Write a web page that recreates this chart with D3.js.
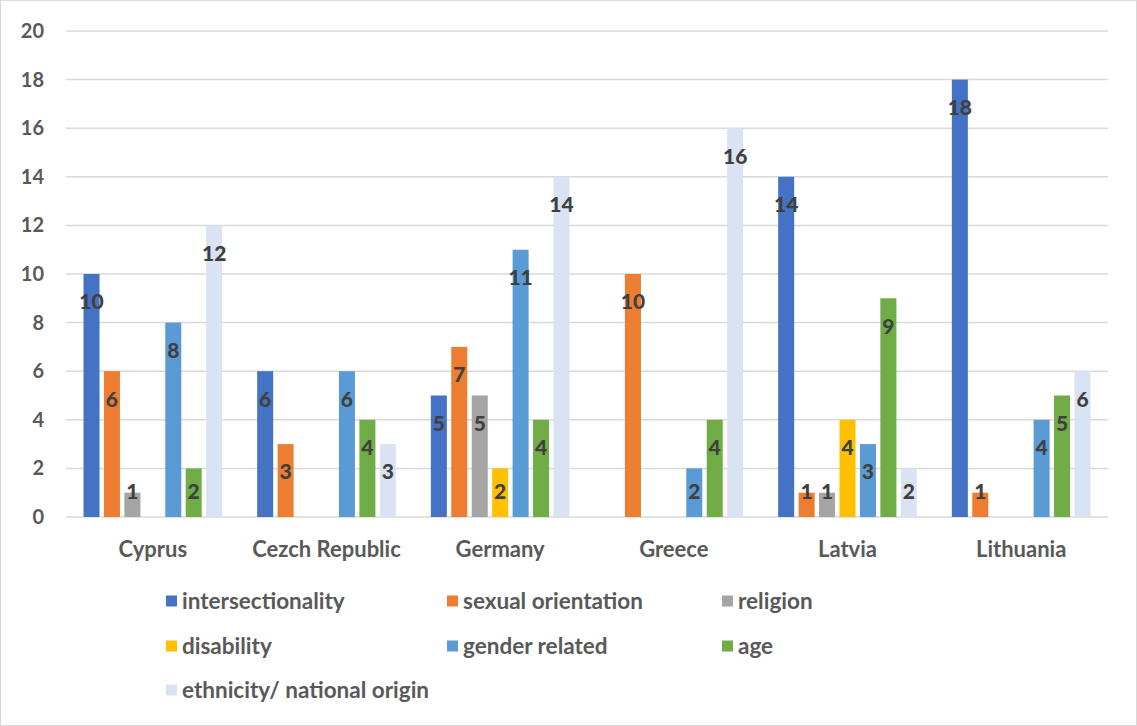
<!DOCTYPE html>
<html><head><meta charset="utf-8">
<script src="https://cdn.jsdelivr.net/npm/d3@7"></script>
<style>body{margin:0;background:#fff}svg{display:block}</style>
</head><body><svg id="c" width="1137" height="726"></svg>
<script>
const countries = ["Cyprus","Cezch Republic","Germany","Greece","Latvia","Lithuania"];
const seriesNames = ["intersectionality","sexual orientation","religion","disability","gender related","age","ethnicity/ national origin"];
const seriesColors = ["#4472C4","#ED7D31","#A5A5A5","#FFC000","#5B9BD5","#70AD47","#DAE3F3"];
const intersectionality = [10,6,5,0,14,18];
const sexualOrientation = [6,3,7,10,1,1];
const religion = [1,0,5,0,1,0];
const disability = [0,0,2,0,4,0];
const genderRelated = [8,6,11,2,3,4];
const age = [2,4,4,4,9,5];
const ethnicity = [12,3,14,16,2,6];
const yTicks = [0,2,4,6,8,10,12,14,16,18,20];
const seriesValues = [intersectionality,sexualOrientation,religion,disability,genderRelated,age,ethnicity];

(function(){
const svg = d3.select("#c");
const font = "Lato, 'Open Sans', sans-serif";
svg.append("rect").attr("x",0.5).attr("y",0.5).attr("width",1136).attr("height",725)
  .attr("fill","#fff").attr("stroke","#d9d9d9").attr("stroke-width",1);

const pLeft=66,pRight=1108,pTop=31,pBottom=517;
const x0 = d3.scaleBand().domain(countries).range([pLeft,pRight]).padding(0);
const x1 = d3.scaleBand().domain(seriesNames).range([17.5, x0.bandwidth()-17.5]).paddingInner(0.216);
const y = d3.scaleLinear().domain([0,20]).range([pBottom,pTop]);

svg.append("g").selectAll("line").data(yTicks).join("line")
  .attr("x1",pLeft).attr("x2",pRight).attr("y1",d=>y(d)).attr("y2",d=>y(d))
  .attr("stroke","#d9d9d9").attr("stroke-width",1.5);

const yAxis = d3.axisLeft(y).tickValues(yTicks).tickSize(0).tickPadding(0);
const ga = svg.append("g").attr("transform","translate(44,0)").call(yAxis);
ga.select(".domain").remove();
ga.selectAll("text").attr("font-family",font).attr("font-weight","bold").attr("font-size",20).attr("fill","#595959");

const data = [];
countries.forEach((c,ci)=>seriesNames.forEach((s,si)=>{
  const v = seriesValues[si][ci];
  if (v>0) data.push({c,s,v,color:seriesColors[si]});
}));
svg.append("g").selectAll("rect").data(data).join("rect")
  .attr("x",d=>x0(d.c)+x1(d.s)).attr("width",x1.bandwidth())
  .attr("y",d=>y(d.v)).attr("height",d=>y(0)-y(d.v)).attr("fill",d=>d.color);

svg.append("g").selectAll("text").data(data).join("text")
  .attr("x",d=>x0(d.c)+x1(d.s)+x1.bandwidth()/2)
  .attr("y",d=>Math.min(y(d.v)+28, y(0)-25))
  .attr("dy","0.35em").attr("text-anchor","middle")
  .attr("font-family",font).attr("font-weight",900).attr("font-size",21).attr("fill","#404040")
  .text(d=>d.v);

const xAxis = d3.axisBottom(x0).tickSize(0).tickPadding(0);
const gx = svg.append("g").attr("transform",`translate(0,${pBottom})`).call(xAxis);
gx.select(".domain").remove();
gx.selectAll("text").attr("y",32).attr("dy","0.35em").attr("font-family",font).attr("font-weight","bold")
  .attr("font-size",22).attr("fill","#595959");

const legX = [166,447,722], legY=[601,646,690];
const lg = svg.append("g").selectAll("g").data(seriesNames).join("g")
  .attr("transform",(d,i)=>`translate(${legX[i%3]},${legY[Math.floor(i/3)]})`);
lg.append("rect").attr("x",0).attr("y",-5.5).attr("width",11).attr("height",11).attr("fill",(d,i)=>seriesColors[i]);
lg.append("text").attr("x",16).attr("dy","0.35em").attr("font-family",font).attr("font-weight","bold")
  .attr("font-size",22.5).attr("fill","#595959").text(d=>d);
})();
</script></body></html>
